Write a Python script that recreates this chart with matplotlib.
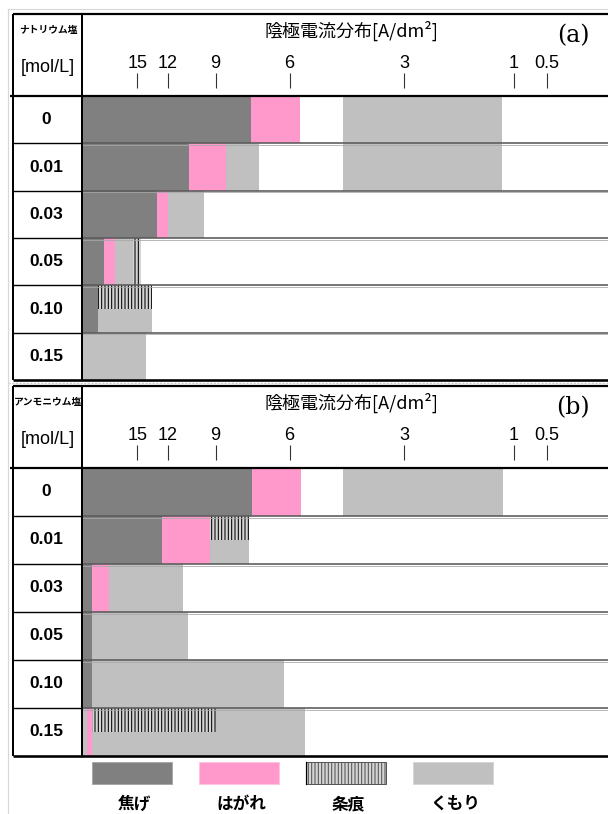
import numpy as np
import matplotlib
matplotlib.use("Agg")
import matplotlib.pyplot as plt
from matplotlib.patches import Rectangle

W, H = 608, 814
DPI = 100

plt.rcParams['font.family'] = ['Liberation Sans', 'Noto Sans CJK JP', 'DejaVu Sans']
plt.rcParams['hatch.linewidth'] = 0.75
CJK = ['Noto Sans CJK JP', 'DejaVu Sans']

# Hull cell (267 mL, 3 A): current density [A/dm2] <-> distance from the high-current end [cm]
CELL_CURRENT = 3.0


def hull_position(i):
    return 10 ** ((5.10 - np.asarray(i, dtype=float) / CELL_CURRENT) / 5.24)


def hull_density(pos):
    pos = np.clip(np.asarray(pos, dtype=float), 1e-9, None)
    return CELL_CURRENT * (5.10 - 5.24 * np.log10(pos))


PANEL_LENGTH = 10.0
HIGH_END = float(hull_density(0.001))
LOW_END = float(hull_density(PANEL_LENGTH))

# ---- data -------------------------------------------------------------
concentrations = ["0", "0.01", "0.03", "0.05", "0.10", "0.15"]
density_ticks = [15, 12, 9, 6, 3, 1, 0.5]
tick_labels = ["15", "12", "9", "6", "3", "1", "0.5"]
categories = ["焦げ", "はがれ", "条痕", "くもり"]

# deposit appearance ranges: (row, from [A/dm2], to [A/dm2])
sodium_burn = [(0, HIGH_END, 7.4), (1, HIGH_END, 10.5), (2, HIGH_END, 12.9),
               (3, HIGH_END, 21.2), (4, HIGH_END, 23.4)]
sodium_peel = [(0, 7.4, 5.67), (1, 10.5, 8.5), (2, 12.9, 12.0), (3, 21.2, 18.5)]
sodium_haze = [(0, 4.44, 1.19), (1, 8.5, 7.1), (1, 4.44, 1.19), (2, 12.0, 9.6),
               (3, 18.5, 14.6), (4, 23.4, 13.4), (5, HIGH_END, 14.0)]
# streaks: (row, from, to, share of the row height covered from the top)
sodium_streak = [(3, 15.6, 14.6, 1.0), (4, 23.4, 13.4, 0.5)]

ammonium_burn = [(0, HIGH_END, 7.35), (1, HIGH_END, 12.5), (2, HIGH_END, 26.5),
                 (3, HIGH_END, 26.5), (4, HIGH_END, 26.5)]
ammonium_peel = [(0, 7.35, 5.64), (1, 12.5, 9.3), (2, 26.5, 19.9), (5, 31.0, 26.5)]
ammonium_haze = [(0, 4.44, 1.17), (1, 9.3, 7.5), (2, 19.9, 10.9), (3, 26.5, 10.6),
                 (4, 26.5, 6.2), (5, 26.5, 5.5), (5, HIGH_END, 31.0)]
ammonium_streak = [(1, 9.3, 7.5, 0.5), (5, 26.5, 9.0, 0.5)]

# ---- styling ----------------------------------------------------------
BURN_C = '#808080'
PEEL_C = '#FF99CC'
HAZE_C = '#C0C0C0'
STREAK_BG = '#d4d4d4'
STREAK_HATCH = '|||||'
X0 = 81.7                 # left edge of the deposit strip [px]
X1 = X0 + 53.24 * PANEL_LENGTH
COL_L, COL_R = 13, 82


def px(v):
    return v * 72.0 / DPI


def rect(x0, y0, x1, y1):
    return [x0 / W, 1 - y1 / H, (x1 - x0) / W, (y1 - y0) / H]


fig = plt.figure(figsize=(W / DPI, H / DPI), dpi=DPI)
fig.patch.set_facecolor('white')

overlay = fig.add_axes([0, 0, 1, 1], zorder=10)
overlay.set_xlim(0, W)
overlay.set_ylim(H, 0)
overlay.axis('off')
overlay.patch.set_alpha(0)


def hull_axes(box):
    a = fig.add_axes(box)
    a.set_xscale('function', functions=(hull_position, hull_density))
    a.set_xlim(LOW_END, HIGH_END)
    return a


def draw_panel(top, header_bottom, bottom, salt, letter,
               burn, peel, haze, streak):
    n = len(concentrations)
    row_h = (bottom - header_bottom) / n

    # deposit strips
    ax = hull_axes(rect(X0, header_bottom, X1, bottom))
    ax.set_ylim(n - 0.5, -0.5)
    ax.axis('off')
    for r, hi, lo in burn:
        ax.barh(r, lo - hi, left=hi, height=1.0, color=BURN_C, linewidth=0)
    for r, hi, lo in peel:
        ax.barh(r, lo - hi, left=hi, height=1.0, color=PEEL_C, linewidth=0)
    for r, hi, lo in haze:
        ax.barh(r, lo - hi, left=hi, height=1.0, color=HAZE_C, linewidth=0)
    for r, hi, lo, share in streak:
        ax.barh(r - 0.5 + share / 2, lo - hi, left=hi, height=share,
                facecolor=STREAK_BG, edgecolor='black', linewidth=0,
                hatch=STREAK_HATCH)

    # current density scale in the header
    tick_top = top + 59
    tick_bottom = header_bottom - 8
    hx = hull_axes(rect(X0, tick_top, X1, tick_bottom))
    hx.patch.set_alpha(0)
    hx.set_xticks(density_ticks, tick_labels)
    hx.set_yticks([])
    hx.xaxis.tick_top()
    hx.tick_params(axis='x', direction='in', length=px(tick_bottom - tick_top),
                   width=px(1.1), color='#333333', pad=px(1.5), labelsize=13)
    for lbl in hx.get_xticklabels():
        lbl.set_fontfamily(['Liberation Sans Narrow', 'Liberation Sans'])
    for s in hx.spines.values():
        s.set_visible(False)

    # header texts
    cx = (COL_L + COL_R) / 2 + 0.5
    overlay.text(cx, top + 16, salt, fontsize=7.0, fontweight='bold',
                 family=CJK, ha='center', va='center')
    overlay.text(cx, top + 53, "[mol/L]", fontsize=13, ha='center', va='center')
    overlay.text(351, top + 17, "陰極電流分布[A/dm²]", fontsize=13,
                 family=CJK, ha='center', va='center')
    overlay.text(573, top + 22, letter, fontsize=17, family='DejaVu Serif',
                 ha='center', va='center')

    # row labels and grid
    for k, name in enumerate(concentrations):
        yc = header_bottom + (k + 0.5) * row_h
        overlay.text(46, yc, name, fontsize=12.5, fontweight='bold',
                     ha='center', va='center')
    for k in range(1, n):
        y = header_bottom + k * row_h
        overlay.plot([COL_L, COL_R], [y, y], color='black', lw=px(1.4),
                     solid_capstyle='butt')
        overlay.plot([COL_R, W], [y, y], color='#5a5a5a', lw=px(1.6),
                     solid_capstyle='butt')
        overlay.plot([COL_R, W], [y + 1.8, y + 1.8], color='#a8a8a8',
                     lw=px(0.8), solid_capstyle='butt')

    overlay.plot([COL_L, W], [top, top], color='black', lw=px(2.2),
                 solid_capstyle='butt')
    overlay.plot([10, W], [header_bottom, header_bottom], color='black',
                 lw=px(2.2), solid_capstyle='butt')
    overlay.plot([COL_L, W], [bottom, bottom], color='black', lw=px(2.6),
                 solid_capstyle='butt')
    for x in (COL_L, COL_R):
        overlay.plot([x, x], [top, bottom], color='black', lw=px(2.0),
                     solid_capstyle='butt')


# light frames around the two tables
overlay.plot([8, W], [9, 9], color='#d8d8d8', lw=px(1.2))
overlay.plot([8, 8], [9, H], color='#d8d8d8', lw=px(1.2))
overlay.plot([8, W], [383, 383], color='#d0d0d0', lw=px(1.2), ls=(0, (2, 1)))

draw_panel(14, 96, 380, "ナトリウム塩", "(a)",
           sodium_burn, sodium_peel, sodium_haze, sodium_streak)
draw_panel(386, 468, 756, "アンモニウム塩", "(b)",
           ammonium_burn, ammonium_peel, ammonium_haze, ammonium_streak)

# legend
swatch_x = [92, 199, 306, 413]
swatch_w, sw_top, sw_bot = 80, 762, 784
face = [BURN_C, PEEL_C, STREAK_BG, HAZE_C]
edge = ['#a8a8a8', '#ffc4e2', '#555555', '#d6d6d6']
for name, x, fc, ec in zip(categories, swatch_x, face, edge):
    hatch = STREAK_HATCH if name == "条痕" else None
    overlay.add_patch(Rectangle((x, sw_top), swatch_w, sw_bot - sw_top,
                                facecolor=fc, edgecolor=ec, lw=px(1.0),
                                hatch=hatch))
    if hatch:
        overlay.plot([x, x], [sw_top, sw_bot], color='black', lw=px(1.2))
    overlay.text(x + swatch_w / 2 + 2, 804, name, fontsize=12, fontweight='bold',
                 family=CJK, ha='center', va='center')

fig.savefig("out.png", dpi=DPI)
